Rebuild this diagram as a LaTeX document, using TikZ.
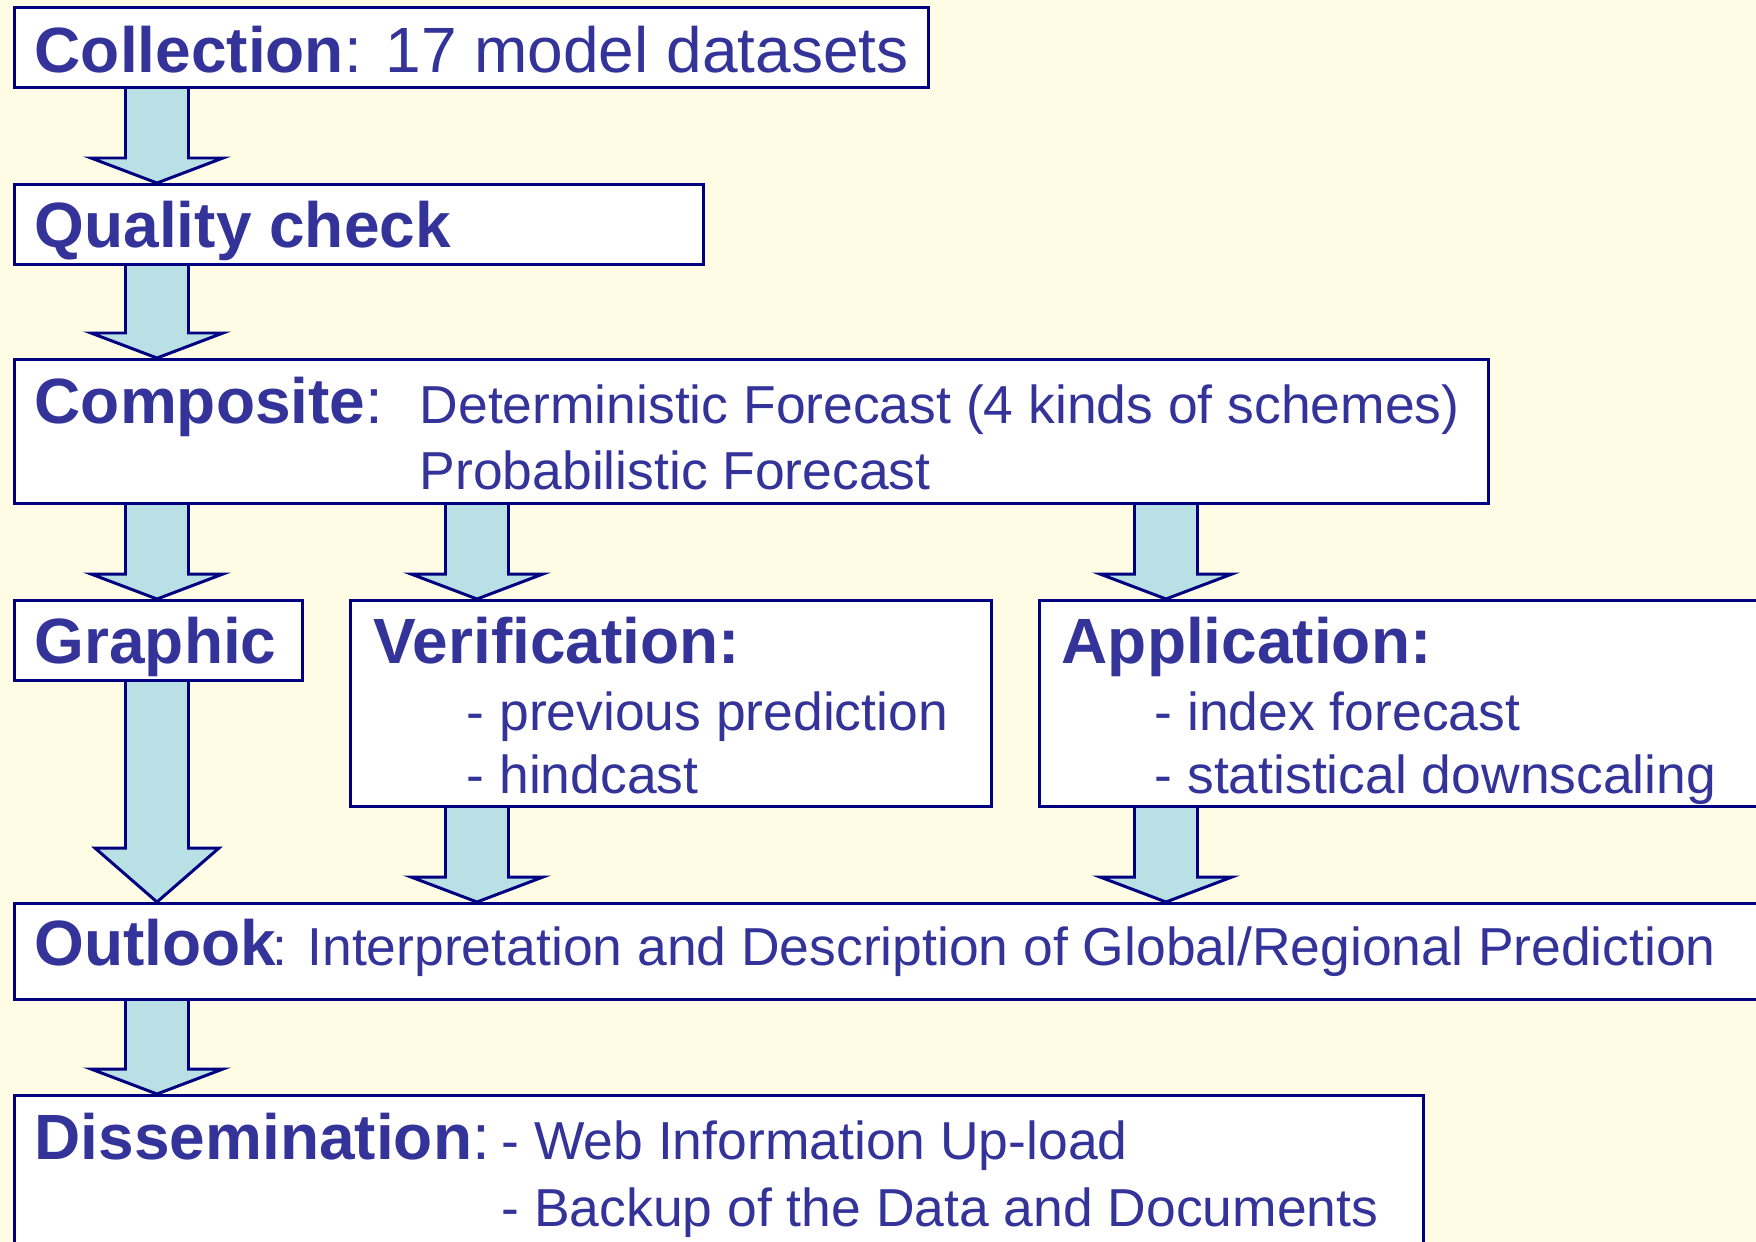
\documentclass[tikz,border=0pt]{standalone}
\usepackage{fontspec}
\setmainfont{Liberation Sans}
\usetikzlibrary{calc, positioning}
\definecolor{paper}{RGB}{255,252,230}
\definecolor{ink}{RGB}{51,51,153}
\definecolor{frame}{RGB}{0,0,128}
\definecolor{pipe}{RGB}{185,224,228}
\pgfdeclarelayer{paper}
\pgfdeclarelayer{pipes}
\pgfsetlayers{paper,pipes,main}
\tikzset{
    box/.style={draw=frame, fill=white, line width=0.85pt, anchor=north west, inner sep=0pt}, % the framed steps
    titletext/.style={font=\fontsize{18.2}{22}\selectfont\bfseries, text=ink, anchor=base west, inner sep=0pt}, % bold step names
    bigtext/.style={font=\fontsize{18.2}{22}\selectfont, text=ink, anchor=base west, inner sep=0pt},
    itemtext/.style={font=\fontsize{15.2}{18}\selectfont, text=ink, anchor=base west, inner sep=0pt}, % the smaller lines
    pipearrow/.style 2 args={ % #1 = height of the head, #2 = half width of the head
        draw=frame, fill=pipe, line width=0.85pt, line join=miter,
        to path={($(\tikztostart)+(-31.5,0)$) -- ($(\tikztotarget)+(-31.5,-#1)$)
            -- ($(\tikztotarget)+(-#2,-#1)$) -- (\tikztotarget)
            -- ($(\tikztotarget)+(#2,-#1)$) -- ($(\tikztotarget)+(31.5,-#1)$)
            -- ($(\tikztostart)+(31.5,0)$)}
    },
    smallpipe/.style={pipearrow={25}{66}},
    bigpipe/.style={pipearrow={54}{62}},
}

\begin{document}
\begin{tikzpicture}[x=0.01cm, y=-0.01cm]
    \useasboundingbox (0,0) rectangle (1756,1242);
    \begin{pgfonlayer}{paper}
        \fill[paper] (0,0) rectangle (1756,1242);
    \end{pgfonlayer}

    % columns of the arrows
    \coordinate (colA) at (157,0);
    \coordinate (colB) at (477,0);
    \coordinate (colC) at (1166,0);

    % boxes
    \node[box, minimum width=9.13cm, minimum height=0.80cm] (collect) at (13,6) {};
    \node[box, minimum width=6.89cm, minimum height=0.80cm] (quality) at (13,183) {};
    \node[box, minimum width=14.73cm, minimum height=1.44cm] (composite) at (13,358) {};
    \node[box, minimum width=2.88cm, minimum height=0.80cm] (graphic) at (13,599) {};
    \node[box, minimum width=6.41cm, minimum height=2.06cm] (verif) at (349,599) {};
    \node[box, minimum width=8.00cm, minimum height=2.06cm] (applic) at (1038,599) {};
    \node[box, minimum width=18.50cm, minimum height=0.96cm] (outlook) at (13,902) {};
    \node[box, minimum width=14.08cm, minimum height=2.50cm] (dissem) at (13,1094) {};

    % texts
    \node[bigtext] (collectT) at (34,72) {\textbf{Collection}: 17 model datasets};
    \node[titletext] (qualityT) at (34,247) {Quality check};
    \node[bigtext] (compositeT) at (34,423) {\textbf{Composite}:};
    \node[itemtext] (comp1) at (419,423) {Deterministic Forecast (4 kinds of schemes)};
    \node[itemtext] (comp2) at (419,489) {Probabilistic Forecast};
    \node[titletext] (graphicT) at (34,663) {Graphic};
    \node[titletext] (verifT) at (373,663) {Verification:};
    \node[itemtext] (verif1) at (466,730) {- previous prediction};
    \node[itemtext] (verif2) at (466,793) {- hindcast};
    \node[titletext] (applicT) at (1061,663) {Application:};
    \node[itemtext] (applic1) at (1154,730) {- index forecast};
    \node[itemtext] (applic2) at (1154,793) {- statistical downscaling};
    \node[titletext] (outlookT) at (34,965) {Outlook};
    \node[itemtext] (outlook1) at ($(outlookT.base east)+(-5,0)$) {: Interpretation and Description of Global/Regional Prediction};
    \node[bigtext] (dissemT) at (34,1159) {\textbf{Dissemination}:};
    \node[itemtext] (dissem1) at (501,1159) {- Web Information Up-load};
    \node[itemtext] (dissem2) at (501,1226) {- Backup of the Data and Documents};

    % arrows
    \begin{pgfonlayer}{pipes}
        \draw[smallpipe] (collect.south -| colA) to (quality.north -| colA);
        \draw[smallpipe] (quality.south -| colA) to (composite.north -| colA);
        \draw[smallpipe] (composite.south -| colA) to (graphic.north -| colA);
        \draw[smallpipe] (composite.south -| colB) to (verif.north -| colB);
        \draw[smallpipe] (composite.south -| colC) to (applic.north -| colC);
        \draw[bigpipe] (graphic.south -| colA) to (outlook.north -| colA);
        \draw[smallpipe] (verif.south -| colB) to (outlook.north -| colB);
        \draw[smallpipe] (applic.south -| colC) to (outlook.north -| colC);
        \draw[smallpipe] (outlook.south -| colA) to (dissem.north -| colA);
    \end{pgfonlayer}
\end{tikzpicture}
\end{document}
